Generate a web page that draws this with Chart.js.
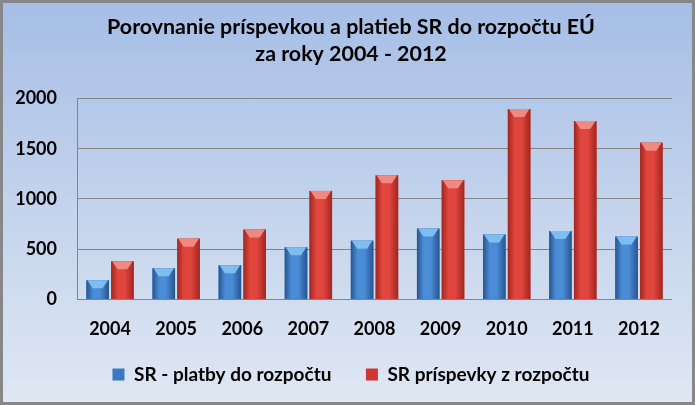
<!DOCTYPE html>
<html>
<head>
<meta charset="utf-8">
<script src="https://cdn.jsdelivr.net/npm/chart.js@4"></script>
<style>
  body { margin: 0; }
  #box {
    width: 695px; height: 405px; box-sizing: border-box;
    border: 3px solid #878787;
    background: linear-gradient(to bottom, #a6bee6 0%, #c3d3ec 50%, #dfe7f3 100%);
  }
  canvas { display: block; }
</style>
</head>
<body>
<div id="box"><canvas id="chart" width="689" height="399"></canvas></div>
<script>
const years = ['2004', '2005', '2006', '2007', '2008', '2009', '2010', '2011', '2012'];
const platby = [190, 310, 340, 520, 585, 705, 645, 680, 625];
const prispevky = [380, 605, 695, 1080, 1235, 1185, 1895, 1775, 1560];
const seriesNames = ['SR - platby do rozpočtu', 'SR príspevky z rozpočtu'];

const FONT = 'Lato, "Open Sans", sans-serif';

// farby pre tienovanie stlpcov (okraj, svetly stred, vrch)
const shades = [
  { edge: '#27558f', light: '#4b8cd6', top: '#7fbdf0' },
  { edge: '#a2261f', light: '#e0463e', top: '#f08a80' }
];

// dokresli "3D" gradient a skosenie na vrchu stlpca
const barShade = {
  id: 'barShade',
  afterDatasetsDraw(chart) {
    const c = chart.ctx;
    chart.data.datasets.forEach((ds, i) => {
      const meta = chart.getDatasetMeta(i);
      const tone = shades[i];
      meta.data.forEach(bar => {
        const { x, y, base, width } = bar.getProps(['x', 'y', 'base', 'width'], true);
        const left = x - width / 2;
        const g = c.createLinearGradient(left, 0, left + width, 0);
        g.addColorStop(0, tone.edge);
        g.addColorStop(0.3, tone.light);
        g.addColorStop(0.6, tone.light);
        g.addColorStop(1, tone.edge);
        c.save();
        c.fillStyle = g;
        c.fillRect(left, y, width, base - y);
        const h = Math.min(8, base - y);
        c.fillStyle = tone.top;
        c.beginPath();
        c.moveTo(left + 1, y);
        c.lineTo(left + width - 1, y);
        c.lineTo(left + width * 0.72, y + h);
        c.lineTo(left + width * 0.28, y + h);
        c.closePath();
        c.fill();
        c.restore();
      });
    });
  }
};

new Chart(document.getElementById('chart'), {
  type: 'bar',
  data: {
    labels: years,
    datasets: [{
      label: seriesNames[0],
      data: platby,
      backgroundColor: '#3a79c4',
      barPercentage: 0.91,
      categoryPercentage: 0.75
    }, {
      label: seriesNames[1],
      data: prispevky,
      backgroundColor: '#cf3631',
      barPercentage: 0.91,
      categoryPercentage: 0.75
    }]
  },
  options: {
    responsive: false,
    animation: false,
    layout: { padding: { left: 7, right: 0, top: 11, bottom: 8 } },
    plugins: {
      title: {
        display: true,
        text: ['Porovnanie príspevkou a platieb SR do rozpočtu EÚ', 'za roky 2004 - 2012'],
        color: '#000',
        font: { family: FONT, size: 21.4, weight: 'bold', lineHeight: 1.25 },
        padding: { top: 0, bottom: 31 }
      },
      legend: {
        position: 'bottom',
        labels: {
          color: '#000',
          font: { family: FONT, size: 19, weight: 'bold' },
          boxWidth: 12,
          boxHeight: 12,
          padding: 6,
          generateLabels(chart) {
            const items = Chart.defaults.plugins.legend.labels.generateLabels(chart);
            // medzera medzi polozkami legendy
            items[0].text += '\u2002\u2002\u2002';
            return items;
          }
        }
      },
      tooltip: { enabled: false }
    },
    scales: {
      x: {
        grid: { display: false, drawTicks: false },
        border: { display: false },
        ticks: {
          color: '#000',
          font: { family: FONT, size: 18, weight: 'bold' },
          padding: 19
        }
      },
      y: {
        min: 0,
        max: 2000,
        afterFit(scale) { scale.width = 67; },
        grid: { color: '#858585', drawTicks: false },
        border: { display: true, color: '#858585' },
        ticks: {
          stepSize: 500,
          color: '#000',
          font: { family: FONT, size: 18, weight: 'bold' },
          padding: 20,
          callback: v => String(v)
        }
      },
      // prazdny okraj vpravo od grafu
      yRight: {
        position: 'right',
        grid: { display: false, drawTicks: false },
        border: { display: false },
        ticks: { display: false },
        afterFit(scale) { scale.width = 20; }
      }
    }
  },
  plugins: [barShade]
});
</script>
</body>
</html>
